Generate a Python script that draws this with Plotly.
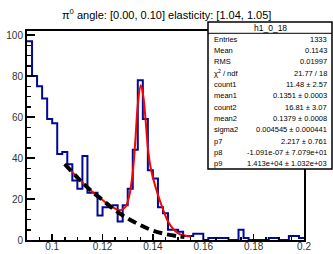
import plotly.graph_objects as go

# ---------------- data ----------------
bin_low = 0.09
bin_width = 0.002
counts = [97, 80, 75, 69, 59, 57,
          42, 43, 37, 29, 25, 41,
          23, 23, 12, 16, 16, 17,
          9, 17, 25, 44, 78, 59,
          34, 30, 16, 13, 5, 5,
          4, 2, 2, 3, 3, 0,
          1, 1, 1, 1, 0, 0,
          5, 1, 0, 0, 0, 0,
          1, 1, 0, 0, 2, 2, 1]

fit_x = [0.105, 0.110, 0.115, 0.120, 0.124, 0.127, 0.129, 0.1305, 0.132, 0.133,
         0.134, 0.1352, 0.1362, 0.137, 0.138, 0.139, 0.140, 0.142, 0.144, 0.146,
         0.148, 0.150, 0.152, 0.155]
fit_y = [37, 30.5, 24.5, 19.5, 16, 14.5, 16, 21, 33, 48,
         66, 75.5, 70, 60, 45, 36, 30.5, 22, 15, 9,
         5.5, 3.3, 2.3, 1.7]

bg_x = [0.105, 0.110, 0.115, 0.120, 0.125, 0.130, 0.135, 0.140, 0.145, 0.150, 0.1525]
bg_y = [37, 30.5, 24.5, 19.5, 14.5, 10.5, 7.3, 4.6, 2.9, 1.8, 1.5]

title_text = "π<sup>0</sup> angle: [0.00, 0.10] elasticity: [1.04, 1.05]"
stats_title = "h1_0_18"
stats_labels = ["Entries", "Mean", "RMS", "χ<sup>2</sup> / ndf", "count1", "mean1",
                "count2", "mean2", "sigma2", "p7", "p8", "p9"]
stats_values = ["1333", "0.1143", "0.01997", "21.77 / 18", "11.48 ± 2.57",
                "0.1351 ± 0.0003", "16.81 ± 3.07", "0.1379 ± 0.0008",
                "0.004545 ± 0.000441", "2.217 ± 0.761",
                "-1.091e-07 ± 7.079e+01", "1.413e+04 ± 1.032e+03"]

# ---------------- figure ----------------
W, H = 333, 254
L, R, T, B = 27, 29, 31, 14
PW, PH = W - L - R, H - T - B


def px(x):
    return (x - L) / PW


def py(y):
    return 1 - (y - T) / PH


edges = [bin_low + bin_width * i for i in range(len(counts) + 1)]
step_y = counts + [counts[-1]]

fig = go.Figure()
fig.add_trace(go.Scatter(x=edges, y=step_y, mode="lines", line_shape="hv",
                         line=dict(color="#000a96", width=2), hoverinfo="skip"))
fig.add_trace(go.Scatter(x=fit_x, y=fit_y, mode="lines", line_shape="spline",
                         line=dict(color="#ff0000", width=2), hoverinfo="skip"))
fig.add_trace(go.Scatter(x=bg_x, y=bg_y, mode="lines", line_shape="spline",
                         line=dict(color="#000000", width=4, dash="9px,5px"),
                         hoverinfo="skip"))

font = "Liberation Sans, Arial, sans-serif"

fig.update_layout(
    width=W, height=H, autosize=False,
    margin=dict(l=L, r=R, t=T, b=B, pad=0, autoexpand=False),
    paper_bgcolor="white", plot_bgcolor="white",
    showlegend=False,
    font=dict(family=font, color="#222", size=10),
    xaxis=dict(range=[0.09, 0.2], dtick=0.02, tick0=0.1, ticks="inside",
               ticklen=6, tickwidth=1.5, tickcolor="black", automargin=False,
               ticklabelstandoff=-4,
               minor=dict(dtick=0.005, ticks="inside", ticklen=3, tickwidth=1.5,
                          tickcolor="black"),
               showline=True, linecolor="black", linewidth=2, mirror=True,
               showgrid=False, zeroline=False,
               tickfont=dict(size=10, color="#333")),
    yaxis=dict(range=[0, 102], dtick=20, tick0=0, ticks="inside",
               ticklen=8, tickwidth=1.5, tickcolor="black", automargin=False,
               minor=dict(dtick=5, ticks="inside", ticklen=4, tickwidth=1.5,
                          tickcolor="black"),
               showline=True, linecolor="black", linewidth=2, mirror=True,
               showgrid=False, zeroline=False,
               tickfont=dict(size=10, color="#333")),
)

# title
fig.add_annotation(text=title_text, xref="paper", yref="paper",
                   x=px(166), y=py(14), xanchor="center", yanchor="middle",
                   showarrow=False, font=dict(size=11, color="black", family=font))

# stats box
bx0, bx1, by0, by1, bsep = 208, 332, 22, 169, 33.3
fig.add_shape(type="rect", xref="paper", yref="paper",
              x0=px(bx0), x1=px(bx1), y0=py(by1), y1=py(by0),
              line=dict(color="black", width=1.5), fillcolor="white", layer="above")
fig.add_shape(type="line", xref="paper", yref="paper",
              x0=px(bx0), x1=px(bx1), y0=py(bsep), y1=py(bsep),
              line=dict(color="black", width=1), layer="above")
fig.add_annotation(text=stats_title, xref="paper", yref="paper",
                   x=px((bx0 + bx1) / 2), y=py(27.8), xanchor="center", yanchor="middle",
                   showarrow=False, font=dict(size=8.5, color="black", family=font))
row0, dy = 39.3, 11.3
for i, (lab, val) in enumerate(zip(stats_labels, stats_values)):
    yy = py(row0 + dy * i)
    fig.add_annotation(text=lab, xref="paper", yref="paper", x=px(212), y=yy,
                       xanchor="left", yanchor="middle", showarrow=False,
                       font=dict(size=7.5, color="black", family=font))
    fig.add_annotation(text=val, xref="paper", yref="paper", x=px(329), y=yy,
                       xanchor="right", yanchor="middle", showarrow=False,
                       font=dict(size=7.5, color="black", family=font))

fig.write_html("out.html", config={"responsive": False, "displayModeBar": False,
                                   "staticPlot": True},
               post_script="document.body.style.margin='0';document.body.style.overflow='hidden';")
